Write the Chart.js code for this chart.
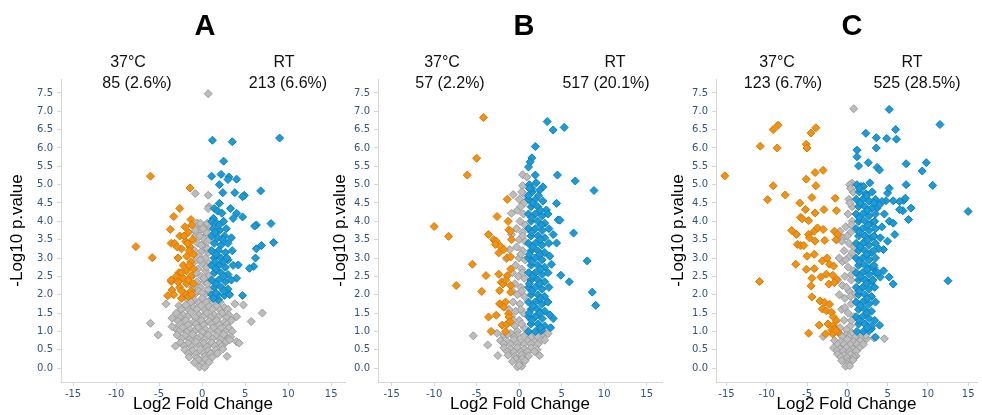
<!DOCTYPE html>
<html lang="en">
<head>
    <meta charset="UTF-8">
    <title>Volcano plots</title>
    <script src="https://cdn.jsdelivr.net/npm/chart.js"></script>
    <style>
        body { margin: 0; background: #fff; width: 982px; height: 415px; position: relative; overflow: hidden; font-family: "Liberation Sans", Arial, sans-serif; }
        canvas { position: absolute; top: 0; }
        .lbl { position: absolute; transform: translate(-50%, -50%); white-space: nowrap; font-size: 16px; color: #111; }
        .letter { position: absolute; transform: translate(-50%, -50%); font-size: 29px; font-weight: bold; color: #000; }
    </style>
</head>
<body>
    <canvas id="chartA" width="350" height="415" style="left:0px"></canvas>
    <canvas id="chartB" width="345" height="415" style="left:323px"></canvas>
    <canvas id="chartC" width="321" height="415" style="left:661px"></canvas>

    <div class="letter" style="left:205px;top:25px">A</div>
    <div class="letter" style="left:524px;top:25px">B</div>
    <div class="letter" style="left:852px;top:25px">C</div>

    <div class="lbl" style="left:128px;top:62px">37°C</div>
    <div class="lbl" style="left:137px;top:83px">85 (2.6%)</div>
    <div class="lbl" style="left:284px;top:62px">RT</div>
    <div class="lbl" style="left:288px;top:83px">213 (6.6%)</div>

    <div class="lbl" style="left:442px;top:62px">37°C</div>
    <div class="lbl" style="left:450px;top:83px">57 (2.2%)</div>
    <div class="lbl" style="left:615px;top:62px">RT</div>
    <div class="lbl" style="left:606px;top:83px">517 (20.1%)</div>

    <div class="lbl" style="left:777px;top:62px">37°C</div>
    <div class="lbl" style="left:783px;top:83px">123 (6.7%)</div>
    <div class="lbl" style="left:912px;top:62px">RT</div>
    <div class="lbl" style="left:917px;top:83px">525 (28.5%)</div>

    <script>
        // tick values
        const xTicks = [-15, -10, -5, 0, 5, 10, 15];
        const yTicks = [0, 0.5, 1, 1.5, 2, 2.5, 3, 3.5, 4, 4.5, 5, 5.5, 6, 6.5, 7, 7.5];

        // panel A  (log2 fold change, -log10 p)
        const grayA = [
            [0.7,7.48],[-0.8,4.76],[0.7,4.71],[0.8,4.4],[-0.5,3.94],[0.7,4.35],
            [-0.6,3.95],[0.4,3.9],[0.9,3.85],[-0.3,3.75],[0.5,3.7],[-0.8,3.6],[0.1,3.55],[0.8,3.5],[-0.5,3.4],[0.3,3.35],
            [-0.9,3.2],[0.0,3.2],[0.7,3.15],[-0.4,3.05],[0.4,3.0],[-0.9,2.9],[0.0,2.85],[0.8,2.85],[-0.5,2.7],[0.4,2.65],
            [-1.0,2.55],[-0.1,2.5],[0.8,2.5],[-0.6,2.35],[0.3,2.35],[-1.1,2.2],[-0.2,2.2],[0.7,2.15],[-0.7,2.05],[0.3,2.0],
            [-0.2,3.95],[0.1,3.8],[0.2,3.3],[-0.3,3.6],[0.6,3.25],[-0.2,2.95],[0.5,2.75],[-0.7,2.6],[0.2,2.45],
            [-0.4,2.1],[0.6,2.3],[0.0,2.05],[-0.8,3.75],[0.6,3.95],[-0.1,3.35],
            [-1.8,1.9],[-0.9,1.85],[0.0,1.9],[0.9,1.85],[1.6,1.9],
            [-1.3,1.8],[-0.4,1.78],[0.5,1.8],[1.3,1.78],[2.1,1.8],
            [-2.7,1.7],[-1.9,1.72],[-1.0,1.65],[-0.1,1.7],[0.8,1.68],[1.7,1.7],[2.6,1.65],
            [-2.4,1.6],[-1.5,1.58],[-0.6,1.6],[0.3,1.58],[1.2,1.6],[2.1,1.58],[3.0,1.6],
            [-3.0,1.5],[-2.2,1.45],[-1.3,1.52],[-0.4,1.45],[0.5,1.5],[1.4,1.45],[2.3,1.5],[3.1,1.45],
            [-2.6,1.38],[-1.7,1.4],[-0.8,1.38],[0.1,1.4],[1.0,1.38],[1.9,1.4],[2.8,1.38],
            [-2.8,1.28],[-1.9,1.3],[-1.0,1.25],[-0.1,1.3],[0.8,1.28],[1.7,1.3],[2.6,1.25],[3.4,1.3],
            [-2.5,1.2],[-1.6,1.18],[-0.7,1.2],[0.2,1.18],[1.1,1.2],[2.0,1.18],[2.9,1.2],
            [-3.1,1.08],[-2.3,1.1],[-1.4,1.05],[-0.5,1.1],[0.4,1.05],[1.3,1.1],[2.2,1.08],[3.1,1.1],
            [-2.7,1.0],[-1.8,0.98],[-0.9,1.0],[0.0,0.98],[0.9,1.0],[1.8,0.98],[2.7,1.0],[3.5,1.0],
            [-2.9,0.9],[-2.0,0.88],[-1.1,0.92],[-0.2,0.86],[0.7,0.9],[1.6,0.88],[2.5,0.92],[3.3,0.85],
            [-2.4,0.8],[-1.5,0.78],[-0.6,0.8],[0.3,0.78],[1.2,0.8],[2.1,0.78],[3.0,0.8],
            [-2.5,0.7],[-1.6,0.68],[-0.7,0.72],[0.2,0.68],[1.1,0.7],[2.0,0.68],[2.8,0.72],
            [-2.1,0.6],[-1.2,0.58],[-0.3,0.6],[0.6,0.58],[1.5,0.6],[2.3,0.6],
            [-2.0,0.5],[-1.1,0.48],[-0.2,0.52],[0.7,0.48],[1.6,0.5],[2.4,0.52],
            [-1.6,0.4],[-0.7,0.38],[0.2,0.4],[1.0,0.4],[1.8,0.4],
            [-1.5,0.3],[-0.6,0.28],[0.3,0.32],[1.2,0.3],[-0.4,0.22],[0.4,0.24],
            [-0.9,0.15],[0.0,0.12],[0.8,0.16],[-0.3,0.03],[0.3,0.02],
            [-4.2,1.75],[-6.0,1.22],[-5.1,0.9],[-3.5,1.36],[-3.5,1.13],[-3.1,0.6],
            [3.8,1.75],[4.8,1.72],[4.0,1.4],[7.0,1.5],[5.7,1.27],[4.0,0.72],[4.3,0.68],[2.9,0.32],[3.2,0.77]
        ];
        const orangeA = [
            [-6.0,5.23],[-1.4,4.91],[-2.6,4.35],[-3.3,4.13],[-1.3,4.05],[-3.7,3.78],[-7.7,3.31],[-5.8,3.01],
            [-3.6,3.4],[-3.6,2.36],[-4.0,1.97],[-3.5,2.13],[-2.4,1.9],
            [-1.2,3.9],[-2.0,3.85],[-1.6,3.7],[-2.6,3.6],[-1.1,3.5],[-1.9,3.45],[-3.2,3.4],[-1.4,3.3],[-2.4,3.25],
            [-1.0,3.1],[-1.8,3.05],[-2.8,3.0],[-1.3,2.9],[-2.2,2.8],[-1.0,2.7],[-1.8,2.65],[-2.7,2.6],[-1.3,2.5],
            [-2.2,2.45],[-3.0,2.5],[-1.0,2.3],[-1.8,2.3],[-2.6,2.2],[-1.3,2.1],[-2.1,2.05],[-1.6,1.95],[-3.3,2.0],
            [-2.9,3.3],[-3.6,2.4],[-1.5,3.2],[-2.1,3.6],[-1.5,2.8],[-2.4,2.6],[-1.6,2.4],[-2.4,2.1],[-1.2,2.0],
            [-2.8,2.35],[-1.7,3.4]
        ];
        const blueA = [
            [1.2,6.21],[3.5,6.17],[9.0,6.27],[2.5,5.64],[1.1,5.23],[2.2,5.28],[3.1,5.21],[3.0,5.14],[4.0,5.15],
            [2.0,5.0],[2.4,4.78],[3.8,4.78],[4.9,4.71],[4.7,4.67],[6.8,4.83],[2.0,4.49],[3.3,4.35],[1.4,4.35],
            [1.8,4.28],[2.3,4.22],[1.3,4.08],[4.0,4.22],[3.6,4.08],[4.7,4.12],[6.3,3.9],[6.1,3.87],[8.0,3.94],
            [8.3,3.42],[6.9,3.34],[6.3,3.25],[6.2,3.0],[6.0,2.77],[5.5,2.72],[4.2,2.81],[4.7,1.98],[4.0,2.45],[1.9,1.86],
            [1.1,4.0],[1.7,3.95],[2.5,4.0],[1.3,3.8],[2.0,3.75],[2.8,3.8],[1.1,3.6],[1.8,3.55],[2.6,3.6],[3.4,3.55],
            [1.4,3.4],[2.2,3.35],[3.0,3.4],[1.1,3.2],[1.9,3.2],[2.7,3.15],[3.5,3.2],[1.4,3.0],[2.2,3.0],[3.0,2.95],
            [1.1,2.8],[1.9,2.8],[2.7,2.75],[3.6,2.8],[1.4,2.6],[2.2,2.6],[3.0,2.55],[1.1,2.4],[1.9,2.4],[2.7,2.35],
            [3.4,2.4],[1.4,2.2],[2.2,2.2],[3.0,2.15],[1.1,2.0],[1.8,2.0],[2.6,1.98],[1.3,1.9],[3.2,2.0],
            [1.5,3.7],[2.4,3.5],[1.6,3.1],[2.5,2.9],[1.6,2.7],[2.5,2.5],[1.6,2.3],[2.5,2.1],[1.6,2.05],[2.0,3.9],
            [1.5,2.9],[2.9,3.0]
        ];

        // panel B
        const grayB = [
            [0.4,5.27],[0.9,5.21],[0.4,4.97],[-0.7,4.73],[0.6,4.73],[0.5,4.49],[-0.9,4.22],
            [0.0,4.6],[0.6,4.5],[-0.2,4.3],[0.5,4.2],[0.1,4.0],[0.7,3.9],[-0.3,3.8],[0.4,3.7],[0.0,3.5],[0.7,3.45],
            [-0.3,3.3],[0.4,3.2],[0.0,3.0],[0.7,2.95],[-0.4,2.8],[0.3,2.7],[-0.1,2.5],[0.6,2.45],[-0.5,2.3],[0.2,2.2],
            [-0.2,2.0],[0.6,1.95],[-0.7,1.8],[0.1,1.75],[-0.4,1.55],[0.5,1.5],[-0.9,1.4],[0.0,1.3],[-0.5,1.15],[0.6,1.1],
            [0.3,4.8],[0.2,4.4],[0.4,3.6],[0.2,3.1],[0.4,2.6],[0.3,2.1],[0.2,1.6],[0.3,1.2],[-0.2,1.0],
            [-0.9,3.64],[-1.1,3.23],[-1.5,2.98],[-0.8,2.6],[-0.8,2.1],[-1.2,1.6],[-0.7,1.3],
            [-2.6,0.95],[-1.8,0.9],[-1.0,0.95],[-0.2,0.9],[1.0,0.9],[1.8,0.95],[2.6,0.9],[3.3,0.95],
            [-1.4,0.92],[-0.6,0.85],[0.6,0.88],[1.4,0.85],[2.2,0.85],
            [-2.2,0.75],[-1.4,0.72],[-0.6,0.78],[0.2,0.72],[1.0,0.75],[1.8,0.72],[2.6,0.76],
            [-1.8,0.66],[-1.0,0.65],[-0.2,0.66],[0.6,0.65],[1.4,0.66],[2.2,0.65],
            [-1.8,0.55],[-1.0,0.52],[-0.2,0.56],[0.6,0.52],[1.4,0.55],[2.1,0.5],
            [-1.4,0.45],[-0.6,0.44],[0.2,0.44],[1.0,0.45],[1.8,0.45],
            [-1.3,0.35],[-0.5,0.32],[0.3,0.36],[1.1,0.33],[-0.4,0.25],[0.4,0.26],
            [-0.8,0.18],[0.0,0.15],[0.7,0.2],[-0.2,0.03],[0.3,0.05],[0.0,0.08],
            [-5.4,0.88],[-3.7,0.63],[-2.5,0.34],[2.4,0.34],[3.4,0.94],[3.0,0.76]
        ];
        const orangeB = [
            [-4.2,6.83],[-5.0,5.72],[-6.1,5.26],[-10.0,3.86],[-8.3,3.59],[-5.5,2.83],[-7.4,2.25],[-3.9,2.52],
            [-4.4,2.09],[-3.6,1.39],[-3.3,1.0],[-1.4,4.6],[-2.6,4.13],[-1.3,4.0],[-1.2,3.77],[-1.0,3.73],
            [-3.6,3.64],[-3.0,3.5],[-2.7,3.46],[-2.8,3.37],[-2.2,3.32],[-1.8,3.23],[-2.4,3.14],[-0.9,3.5],
            [-1.4,3.01],[-1.0,3.03],[-1.0,2.7],[-2.4,2.56],[-1.4,2.52],[-2.1,2.34],[-1.9,2.29],[-1.6,2.4],
            [-1.0,2.25],[-2.3,2.11],[-1.0,2.07],[-2.3,1.75],[-2.0,1.71],[-1.6,1.8],[-1.8,1.66],[-2.7,1.44],
            [-1.25,1.48],[-1.2,1.39],[-2.0,1.17],[-1.45,1.19],[-1.05,1.26],[-1.6,0.99]
        ];
        const blueB = [
            [3.3,6.72],[4.0,6.49],[5.3,6.56],[1.9,6.04],[1.5,5.73],[1.3,5.62],[1.1,5.48],[1.9,5.26],[4.5,5.26],
            [6.6,5.1],[8.8,4.84],[2.8,4.94],[4.4,4.49],[4.6,4.04],[4.8,4.03],[3.2,4.31],[6.4,3.68],[4.0,3.64],
            [4.4,3.41],[3.6,3.05],[8.0,2.92],[4.9,2.53],[5.9,2.35],[8.6,2.07],[9.0,1.71],[3.8,2.83],[4.0,1.35],[3.7,1.1],
            [1.2,5.0],[2.0,5.05],[1.5,4.8],[2.4,4.85],[1.1,4.6],[1.9,4.6],[2.8,4.55],[1.4,4.4],[2.2,4.4],
            [1.1,4.2],[1.9,4.2],[2.7,4.15],[3.4,4.2],[1.4,4.0],[2.2,4.0],[3.0,3.95],
            [1.1,3.8],[1.9,3.8],[2.7,3.75],[3.5,3.8],[1.4,3.6],[2.2,3.6],[3.0,3.55],
            [1.1,3.4],[1.9,3.4],[2.7,3.35],[3.5,3.4],[1.4,3.2],[2.2,3.2],[3.0,3.15],
            [1.1,3.0],[1.9,3.0],[2.7,2.95],[1.4,2.8],[2.2,2.8],[3.0,2.75],
            [1.1,2.6],[1.9,2.6],[2.7,2.55],[3.4,2.6],[1.4,2.4],[2.2,2.4],[3.0,2.35],
            [1.1,2.2],[1.9,2.2],[2.7,2.15],[3.5,2.2],[1.4,2.0],[2.2,2.0],[3.0,1.95],
            [1.1,1.8],[1.9,1.8],[2.7,1.75],[3.4,1.8],[1.4,1.6],[2.2,1.6],[3.0,1.55],
            [1.1,1.4],[1.9,1.4],[2.7,1.35],[3.6,1.45],[1.4,1.2],[2.2,1.2],[3.0,1.15],
            [1.1,1.0],[1.9,1.0],[2.6,1.02],
            [1.5,4.9],[2.3,4.7],[1.6,4.5],[2.5,4.3],[1.5,4.1],[2.6,3.9],[1.5,3.7],[2.5,3.5],[1.6,3.3],[2.4,3.1],
            [1.5,2.9],[2.5,2.7],[1.6,2.5],[2.4,2.3],[1.5,2.1],[2.5,1.9],[1.6,1.7],[2.4,1.5],[1.5,1.3],[2.5,1.1],
            [1.2,4.9],[1.1,4.7],[1.2,3.1],[1.2,2.3],[1.2,1.5]
        ];

        // panel C
        const grayC = [
            [0.8,7.07],[0.6,5.04],
            [0.3,5.0],[0.7,4.8],[0.2,4.6],[0.6,4.4],[0.1,4.2],[0.6,4.0],[-0.2,3.85],[0.4,3.7],[-0.5,3.55],[0.2,3.4],
            [0.8,3.3],[-0.4,3.2],[0.3,3.05],[-0.6,2.9],[0.1,2.75],[0.8,2.65],[-0.3,2.5],[0.5,2.4],[-0.6,2.25],[0.2,2.1],
            [0.9,2.0],[-0.3,1.9],[0.5,1.75],[-0.7,1.6],[0.1,1.5],[0.8,1.4],[-0.4,1.3],[0.4,1.15],[-0.9,1.1],
            [0.4,4.9],[0.3,4.5],[0.5,3.9],[0.0,3.6],[0.6,3.15],[-0.2,2.95],[0.5,2.55],[-0.1,2.2],[0.4,1.95],
            [-0.3,1.65],[0.5,1.3],[-0.1,1.05],
            [-0.9,3.73],[-0.7,3.46],[-1.3,3.5],[-1.0,3.0],[-1.2,2.4],[-1.0,2.0],
            [-1.0,0.95],[-0.2,0.9],[0.6,0.95],[1.4,0.9],[2.2,0.92],
            [-0.6,0.85],[0.2,0.85],[1.0,0.85],[1.8,0.85],
            [-1.6,0.75],[-0.8,0.72],[0.0,0.78],[0.8,0.72],[1.6,0.75],[2.4,0.8],
            [-1.2,0.65],[-0.4,0.65],[0.4,0.65],[1.2,0.65],[2.0,0.65],
            [-1.7,0.55],[-0.9,0.52],[-0.1,0.56],[0.7,0.52],[1.5,0.55],
            [-1.3,0.47],[-0.5,0.46],[0.3,0.46],[1.1,0.46],
            [-1.2,0.38],[-0.4,0.35],[0.4,0.38],[1.1,0.33],[-0.8,0.3],[0.0,0.28],[0.8,0.3],
            [-0.7,0.2],[0.1,0.18],[0.7,0.22],[0.0,0.1],[-0.2,0.05],[0.3,0.06],
            [-3.0,0.86],[3.3,0.82],[4.6,0.8],[2.3,0.89]
        ];
        const orangeC = [
            [-15.2,5.24],[-10.9,2.36],[-10.8,6.05],[-9.2,6.5],[-8.6,6.62],[-8.7,6.0],[-9.9,4.59],[-9.2,4.97],
            [-7.7,4.72],[-4.8,0.95],[-4.5,6.41],[-3.9,6.55],[-5.1,6.1],[-5.0,6.0],[-4.0,5.33],[-3.0,5.39],
            [-5.1,5.15],[-3.9,4.97],[-5.9,4.5],[-5.2,4.32],[-4.4,4.65],[-5.8,4.11],[-5.6,4.07],[-4.8,4.02],
            [-4.0,4.23],[-2.9,4.32],[-1.5,4.63],[-1.35,4.29],[-6.9,3.75],[-6.3,3.64],[-6.2,3.37],[-5.8,3.34],
            [-5.4,3.34],[-4.8,3.64],[-4.1,3.73],[-3.7,3.82],[-3.0,3.78],[-4.7,3.55],[-4.0,3.46],[-2.8,3.48],
            [-1.6,3.73],[-1.2,3.64],[-1.4,3.5],[-6.4,2.83],[-5.0,3.05],[-4.1,3.1],[-3.1,2.92],[-2.5,3.0],
            [-2.2,2.83],[-1.7,2.78],[-5.1,2.69],[-4.1,2.71],[-4.4,2.45],[-3.3,2.48],[-2.6,2.56],[-1.8,2.53],
            [-1.35,2.42],[-4.5,2.24],[-2.3,2.29],[-1.6,2.33],[-4.4,1.94],[-3.4,1.83],[-2.8,1.79],[-2.2,1.74],
            [-3.1,1.61],[-2.6,1.56],[-1.95,1.52],[-1.75,1.4],[-1.35,1.29],[-3.5,1.17],[-2.4,1.2],[-1.75,1.16],
            [-1.95,1.04],[-1.55,1.07],[-1.15,0.98],[-2.7,0.93],[-1.8,0.93],[-1.4,1.02]
        ];
        const blueC = [
            [5.2,7.05],[11.5,6.64],[1.2,5.94],[1.2,5.76],[1.4,5.51],[2.3,6.4],[3.6,6.28],[3.6,6.0],[4.9,6.26],
            [6.0,6.5],[6.1,6.24],[2.6,5.6],[3.7,5.47],[4.0,5.4],[7.3,5.57],[9.8,5.6],[9.3,5.37],[10.6,4.98],
            [7.3,5.0],[15.0,4.27],[12.5,2.38],[5.7,2.29],[7.9,4.36],[7.6,4.05],[6.9,4.29],[6.5,4.32],[7.0,4.57],
            [7.2,4.63],[6.5,4.54],[5.7,4.56],[5.0,4.77],[5.2,4.9],[4.8,4.56],[4.3,4.54],[3.7,4.36],[4.6,4.2],
            [5.2,4.0],[5.7,3.95],[5.9,3.64],[5.0,3.46],[4.1,3.55],[4.5,3.23],[5.2,2.48],[4.1,2.48],[3.3,2.74],
            [4.5,2.65],[4.0,1.17],[3.5,0.84],[3.0,1.07],[1.7,4.95],
            [1.2,5.0],[2.0,4.95],[2.8,5.05],[1.5,4.8],[2.3,4.75],[3.1,4.8],
            [1.1,4.6],[1.9,4.6],[2.7,4.55],[3.5,4.6],[1.4,4.4],[2.2,4.4],[3.0,4.35],[4.0,4.45],
            [1.1,4.2],[1.9,4.2],[2.7,4.15],[3.5,4.2],[1.4,4.0],[2.2,4.0],[3.0,3.95],
            [1.1,3.8],[1.9,3.8],[2.7,3.75],[3.5,3.8],[4.3,3.85],[1.4,3.6],[2.2,3.6],[3.0,3.55],
            [1.1,3.4],[1.9,3.4],[2.7,3.35],[3.5,3.4],[1.4,3.2],[2.2,3.2],[3.0,3.15],[3.9,3.25],
            [1.1,3.0],[1.9,3.0],[2.7,2.95],[3.5,3.0],[1.4,2.8],[2.2,2.8],[3.0,2.75],
            [1.1,2.6],[1.9,2.6],[2.7,2.55],[3.5,2.6],[1.4,2.4],[2.2,2.4],[3.0,2.35],
            [1.1,2.2],[1.9,2.2],[2.7,2.15],[3.4,2.2],[1.4,2.0],[2.2,2.0],[3.0,1.95],
            [1.1,1.8],[1.9,1.8],[2.7,1.75],[1.4,1.6],[2.2,1.6],[3.0,1.55],
            [1.1,1.4],[1.9,1.4],[2.7,1.35],[1.4,1.2],[2.2,1.2],[3.0,1.15],
            [1.2,1.0],[2.0,1.0],[2.7,1.02],
            [1.5,4.9],[2.4,4.7],[1.6,4.5],[2.5,4.3],[3.3,4.5],[1.5,4.1],[2.6,3.9],[3.4,4.0],[1.5,3.7],[2.5,3.5],
            [3.3,3.6],[1.6,3.3],[2.4,3.1],[3.3,3.2],[1.5,2.9],[2.5,2.7],[3.3,2.8],[1.6,2.5],[2.4,2.3],[3.2,2.4],
            [1.5,2.1],[2.5,1.9],[1.6,1.7],[2.4,1.5],[1.5,1.3],[2.5,1.1],[3.4,1.3],[3.5,1.8],[3.8,2.6]
        ];

        function pts(arr) {
            return arr.map(p => ({ x: p[0], y: p[1] }));
        }

        function ds(arr, fill, border) {
            return {
                data: pts(arr),
                pointStyle: 'rectRot',
                pointRadius: 4,
                pointBackgroundColor: fill,
                pointBorderColor: border,
                pointBorderWidth: 1,
                showLine: false
            };
        }

        const axisGrey = '#d6d6d6';
        const tickColor = '#33557a';

        function makePanel(id, gray, orange, blue, xMin, xMax, yWidth, padRight) {
            const ctx = document.getElementById(id).getContext('2d');
            new Chart(ctx, {
                type: 'scatter',
                data: {
                    // first dataset is drawn on top
                    datasets: [
                        ds(blue, '#1b9bd7', '#0f7fb8'),
                        ds(orange, '#f39212', '#d67a05'),
                        ds(gray, '#bdbdbd', '#9a9a9a')
                    ]
                },
                options: {
                    responsive: false,
                    animation: false,
                    layout: { padding: { top: 79, right: padRight, bottom: 0, left: 0 } },
                    plugins: { legend: { display: false }, tooltip: { enabled: false } },
                    scales: {
                        x: {
                            type: 'linear',
                            min: xMin,
                            max: xMax,
                            afterBuildTicks: s => { s.ticks = xTicks.map(v => ({ value: v })); },
                            afterFit: s => { s.height = 33; },
                            grid: { drawOnChartArea: false, tickLength: 4, color: axisGrey },
                            border: { color: axisGrey },
                            ticks: { color: tickColor, padding: 2, maxRotation: 0,
                                font: { family: 'DejaVu Sans', size: 10 } },
                            title: { display: true, text: 'Log2 Fold Change', color: '#000',
                                padding: 0, font: { family: 'Liberation Sans', size: 17 } }
                        },
                        y: {
                            type: 'linear',
                            min: -0.38,
                            max: 7.88,
                            afterBuildTicks: s => { s.ticks = yTicks.map(v => ({ value: v })); },
                            afterFit: s => { s.width = yWidth; },
                            grid: { drawOnChartArea: false, tickLength: 4, color: axisGrey },
                            border: { color: axisGrey },
                            ticks: { color: tickColor, padding: 4,
                                font: { family: 'DejaVu Sans', size: 10 },
                                callback: v => v.toFixed(1) },
                            title: { display: true, text: '-Log10 p.value', color: '#000',
                                padding: { top: 7, bottom: 0 }, font: { family: 'Liberation Sans', size: 17 } }
                        }
                    }
                }
            });
        }

        makePanel('chartA', grayA, orangeA, blueA, -16.4, 16.6, 61, 5);
        makePanel('chartB', grayB, orangeB, blueB, -16.6, 16.8, 55, 6);
        makePanel('chartC', grayC, orangeC, blueC, -16.3, 16.1, 55, 0);
    </script>
</body>
</html>
